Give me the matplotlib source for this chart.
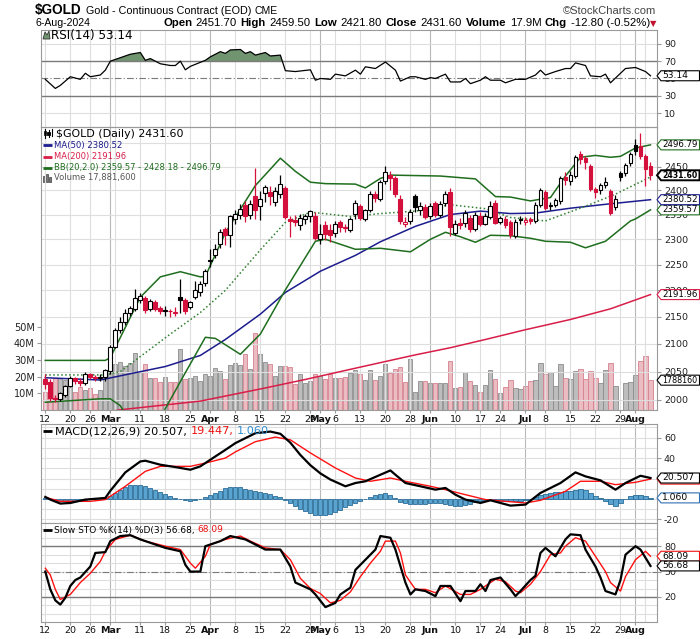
import numpy as np
import pandas as pd
import matplotlib
matplotlib.use('Agg')
import matplotlib.pyplot as plt
from matplotlib import font_manager
from matplotlib.patches import Polygon, Rectangle
from matplotlib.lines import Line2D
from matplotlib.ticker import NullLocator, NullFormatter

W, H = 700, 639

# trading days on the chart (exchange closed on these)
closed = ['2024-02-19', '2024-03-29', '2024-05-27', '2024-06-19', '2024-07-04']
dates = pd.bdate_range('2024-02-12', '2024-08-06')
dates = dates[~dates.isin(pd.to_datetime(closed))]

prev_close = 2038.0   # 9-Feb close, only colours the first candle

opens = [2037, 2031, 2004, 2002, 2008, 2025, 2038, 2034, 2030, 2045,
         2040, 2038, 2040, 2051, 2095, 2126, 2140, 2158, 2164, 2182,
         2186, 2164, 2178, 2166, 2160, 2160, 2158, 2188, 2182, 2168,
         2188, 2196, 2214, 2259, 2268, 2290, 2320, 2308, 2341, 2350,
         2370, 2350, 2388, 2368, 2395, 2396, 2375, 2393, 2404, 2340,
         2339, 2328, 2340, 2346, 2347, 2300, 2328, 2318, 2312, 2334,
         2324, 2318, 2352, 2368, 2340, 2360, 2392, 2382, 2420, 2432,
         2425, 2383, 2330, 2337, 2388, 2360, 2365, 2347, 2373, 2350,
         2373, 2397, 2313, 2332, 2332, 2343, 2320, 2348, 2331, 2345,
         2373, 2335, 2340, 2334, 2306, 2338, 2334, 2341, 2336, 2370,
         2397, 2367, 2370, 2377, 2428, 2420, 2430, 2477, 2468, 2452,
         2402, 2400, 2411, 2399, 2365, 2436, 2436, 2457, 2497, 2495,
         2473, 2451.7]
highs = [2045, 2036, 2008, 2014, 2027, 2042, 2041, 2038, 2050, 2048,
         2043, 2046, 2054, 2098, 2130, 2150, 2164, 2170, 2203, 2195,
         2190, 2184, 2182, 2170, 2170, 2165, 2168, 2222, 2186, 2180,
         2218, 2218, 2242, 2280, 2290, 2320, 2325, 2350, 2360, 2372,
         2378, 2380, 2448, 2398, 2412, 2410, 2406, 2432, 2410, 2346,
         2350, 2352, 2352, 2360, 2355, 2330, 2336, 2330, 2336, 2338,
         2330, 2345, 2380, 2372, 2362, 2398, 2398, 2422, 2452, 2440,
         2430, 2390, 2345, 2362, 2392, 2375, 2372, 2374, 2378, 2378,
         2398, 2405, 2338, 2342, 2360, 2350, 2355, 2356, 2353, 2378,
         2380, 2347, 2348, 2338, 2340, 2348, 2345, 2345, 2375, 2405,
         2400, 2375, 2384, 2430, 2438, 2440, 2475, 2484, 2472, 2456,
         2408, 2415, 2428, 2403, 2390, 2440, 2458, 2482, 2509, 2522,
         2478, 2459.5]
lows = [2020, 1998, 1996, 1999, 2005, 2022, 2028, 2024, 2026, 2036,
        2034, 2034, 2034, 2046, 2092, 2120, 2134, 2152, 2160, 2176,
        2158, 2160, 2160, 2155, 2152, 2150, 2152, 2158, 2156, 2164,
        2184, 2190, 2208, 2246, 2262, 2282, 2288, 2285, 2330, 2340,
        2335, 2340, 2341, 2338, 2375, 2370, 2368, 2385, 2340, 2305,
        2326, 2318, 2330, 2335, 2298, 2290, 2298, 2295, 2305, 2315,
        2315, 2315, 2340, 2338, 2336, 2356, 2376, 2378, 2414, 2400,
        2386, 2330, 2325, 2330, 2355, 2350, 2340, 2340, 2345, 2345,
        2368, 2306, 2308, 2320, 2325, 2314, 2316, 2326, 2328, 2340,
        2330, 2330, 2322, 2302, 2302, 2330, 2328, 2330, 2332, 2365,
        2360, 2360, 2365, 2372, 2412, 2412, 2426, 2455, 2445, 2398,
        2385, 2392, 2405, 2350, 2360, 2420, 2430, 2452, 2475, 2466,
        2410, 2421.8]
closes = [2028, 2003, 2001, 2012, 2024, 2038, 2033, 2030, 2046, 2040,
          2039, 2041, 2052, 2095, 2126, 2141, 2158, 2166, 2185, 2189,
          2162, 2180, 2164, 2161, 2163, 2160, 2159.5, 2182, 2160, 2178,
          2200, 2212, 2237, 2256, 2281, 2314, 2308, 2346, 2351, 2362,
          2347, 2372, 2360, 2383, 2406, 2388, 2398, 2413, 2345, 2337,
          2335, 2342, 2347, 2357, 2302, 2311, 2310, 2308, 2331, 2324,
          2322, 2340, 2373, 2342, 2359, 2393, 2384, 2418, 2438, 2425,
          2393, 2336, 2334, 2356, 2366, 2367, 2345, 2368, 2350, 2372,
          2392, 2325, 2330, 2328, 2353, 2320, 2350, 2331, 2347, 2368,
          2333, 2343, 2328, 2308, 2334, 2340, 2338, 2336, 2370, 2400,
          2364, 2369, 2379, 2425, 2421, 2433, 2470, 2466, 2459, 2402,
          2396, 2411, 2418, 2354, 2383, 2427, 2454, 2476, 2484, 2472,
          2444.4, 2431.6]
# volume in millions of contracts
volume_m = [10.5, 17, 19, 19, 18, 17, 11, 13.5, 12, 13, 9.5, 12, 19,
            29.5, 27.5, 28.5, 26.5, 28, 34, 22.5, 27.5, 19, 19, 16.5, 19.5, 16.5, 17, 36.5, 18.5, 19,
            20.3, 17.3, 21.7, 20.3, 24.9, 23.3, 18.3, 26.9, 28.3, 26.9,
            33.7, 24.3, 46.4, 33.7, 28.7, 27.7, 20.3, 26.3, 26.3, 25.7,
            15.3, 21.7, 16.3, 17.3, 21.7, 20.3, 18.3, 21.7, 18.9, 18.9, 19.7,
            22.3, 23.9, 21.5, 17.9, 23.9, 17.9, 20.5, 27.5, 21.9, 24.5,
            25.9, 16.5, 30.5, 11.0, 17.5, 17.1, 16.1, 16.1, 16.1, 16.1,
            29.5, 13.1, 13.5, 22.5, 17.1, 14.9, 11.0, 14.9, 23.9, 18.5,
            10.4, 13.5, 17.9, 13.1, 12.4, 14.5, 17.5, 17.9, 28.1, 21.5,
            22.5, 14.5, 27.5, 19.1, 18.5, 23.1, 24.5, 18.5, 23.1, 19.1,
            16.1, 23.9, 28.1, 14.5, 0, 16.1, 16.5, 21.1, 29.5, 32.5,
            17.8816]

# overlay lines: day index -> value
ma50_day = [0, 11, 18, 24, 31, 36, 43, 48, 55, 62, 67, 74, 81, 87, 93, 98, 105, 112, 121]
ma50_val = [2039, 2035, 2048, 2059, 2079, 2108, 2155, 2196, 2237, 2268, 2295, 2326, 2350,
            2357, 2352, 2353, 2363, 2371, 2380.52]
ma200_day = [0, 10, 15, 31, 44, 52, 61, 68, 74, 81, 88, 96, 105, 113, 121]
ma200_val = [1968, 1975, 1983, 1998, 2021, 2036, 2054, 2068, 2080, 2093, 2108, 2126, 2145, 2165, 2191.96]
bb_up_day = [0, 12, 13, 19, 23, 27, 31, 32, 36, 42, 47, 50, 53, 56, 62, 64, 67, 69, 79, 86,
             90, 93, 97, 101, 104, 107, 110, 113, 115, 118, 121]
bb_up_val = [2070, 2070, 2075, 2187, 2226, 2236, 2226, 2227, 2313, 2410, 2468, 2440, 2417, 2414,
             2413, 2405, 2425, 2432, 2430, 2424, 2387, 2386, 2378, 2385, 2430, 2470, 2474, 2470,
             2472, 2490, 2496.79]
bb_mid_day = [0, 12, 15, 19, 25, 31, 36, 43, 48, 53, 61, 67, 74, 81, 88, 93, 100, 108, 114, 121]
bb_mid_val = [2044, 2044, 2050, 2077, 2118, 2158, 2200, 2279, 2334, 2355, 2346, 2352, 2357, 2370,
              2362, 2344, 2337, 2367, 2392, 2428.18]
bb_lo_day = [0, 11, 13, 15, 18, 21, 24, 28, 32, 34, 39, 43, 48, 54, 56, 62, 67, 73, 77, 80,
             83, 86, 89, 93, 97, 100, 105, 108, 112, 117, 118, 121]
bb_lo_val = [1996, 2002, 2002, 1990, 1950, 1930, 1985, 2048, 2112, 2110, 2081, 2118, 2201, 2296,
             2300, 2280, 2282, 2275, 2300, 2314, 2305, 2294, 2308, 2307, 2302, 2296, 2294, 2283,
             2296, 2337, 2341, 2359.57]

rsi_day = [0, 2, 3, 5, 7, 8, 9, 11, 12, 13, 15, 17, 19, 20, 21, 23, 25, 26, 27, 28,
           29, 32, 33, 35, 36, 37, 39, 40, 41, 42, 44, 45, 47, 48, 50, 53, 54, 55, 57, 58,
           60, 62, 63, 64, 66, 68, 70, 71, 73, 74, 76, 77, 78, 80, 81, 83, 84, 85, 87, 88,
           89, 91, 92, 94, 96, 98, 99, 100, 102, 104, 105, 106, 108, 109, 111, 112, 113, 115, 116, 118,
           120, 121]
rsi_val = [49, 38.5, 42, 52, 49, 56, 52, 54, 59.6, 70, 74, 78, 80, 71, 73, 67, 65, 65, 70, 60,
           64, 71, 75, 81, 79, 83, 83.5, 79, 81, 77, 80, 76, 77, 59, 58, 60, 48, 50, 49, 55,
           53, 59.6, 55, 63.5, 61.5, 69, 59.6, 47, 52, 52, 49, 51, 50, 55, 46, 46, 50, 44, 48, 52,
           48, 48, 45, 49, 49, 54, 59.6, 54, 58, 61.5, 61.5, 68, 65, 53, 52, 55, 45, 56, 61.5, 62.7,
           58, 53.14]

macd_day = [0, 1, 3, 5, 8, 12, 13, 14, 16, 19, 20, 23, 26, 29, 31, 34, 36, 38, 42, 45, 47,
            49, 51, 53, 55, 57, 60, 62, 64, 67, 69, 70, 72, 75, 78, 80, 82, 84, 87, 89, 93,
            96, 99, 103, 106, 108, 111, 114, 116, 119, 121]
macd_val = [2.0, -0.6, -4.5, -3.9, -0.6, 1, 8, 14, 26, 36.7, 37.4, 33.5, 31.2, 28.6, 31.9, 41.6, 48,
            54.6, 64.3, 65.9, 63.7, 55, 43, 33, 25, 19, 12.4, 15.6, 17.3, 23.7, 27.9, 23.7, 15.6,
            12.4, 9.1, 10.8, 4.2, -0.6, -3.9, -1.3, -6.5, -5.5, 5.9, 15.6, 26, 22.1, 18.2, 9.1,
            15.6, 22.7, 20.507]
signal_day = [0, 3, 9, 12, 16, 20, 23, 29, 32, 36, 38, 42, 46, 49, 53, 58, 62, 65, 69, 72,
              77, 80, 84, 88, 92, 96, 99, 104, 107, 111, 114, 118, 121]
signal_val = [1.6, -2.3, -2.3, -0.6, 12.4, 27, 31.9, 31.9, 35.1, 40, 46, 56, 60.5, 57.8, 45, 30.3,
              20.5, 17.3, 20.5, 17.3, 12.4, 9.1, 4.2, -0.6, -2.3, -3.9, -1.3, 7.5, 17.3, 17.3, 14,
              16.3, 19.447]
hist_val = [1.0, 0, -1.5, -2, -2, -2, -1.5, -1, -1, -0.5,
            0, 0.5, 1, 3, 6, 9, 12, 13.5, 14, 14,
            13, 11, 9, 7, 5, 3, 1, 0, -1, -1.5,
            -1, 0, 2, 4, 6, 8, 11, 12, 12, 11.5,
            10, 9, 8, 7, 6, 5, 3, 1.5, -1, -4,
            -7, -10, -12, -14, -15.5, -16, -16, -15, -13, -11,
            -8, -6, -4, -2, 0, 2, 3.5, 5, 5.5, 3.5,
            0.5, -2.5, -4, -4.5, -5, -5, -4.5, -4, -3.5, -4,
            -5, -6, -6.5, -7, -6, -5, -3, -1.5, -1, -0.5,
            -1, -1.5, -2, -2, -2, -1.5, -1, 0, 2, 4,
            5, 6, 6.5, 7, 7.5, 8, 9, 10, 9, 6,
            3, 1, -1.5, -5, -6.5, -4, 0, 3, 4.2, 4,
            3, 1.06]

stok_day = [0, 1, 2, 3, 4, 5, 6, 7, 9, 10, 12, 13, 15, 17, 19, 21, 24, 27, 28, 29,
            31, 32, 35, 37, 40, 42, 44, 47, 49, 50, 53, 54, 56, 58, 59, 61, 62, 64, 66, 67,
            69, 70, 72, 73, 74, 76, 78, 79, 81, 83, 84, 86, 87, 88, 89, 91, 93, 94, 95, 97,
            98, 99, 100, 102, 104, 105, 107, 108, 110, 111, 112, 114, 115, 116, 118, 119, 121]
stok_val = [50, 29, 16, 11, 19, 33, 40, 43, 56, 72, 73, 86, 92, 93, 88, 84, 78, 74, 58, 50,
            50, 80, 86, 92, 88, 82, 76, 76, 56, 37, 29, 23, 8, 13, 23, 31, 52, 64, 76, 92,
            90, 76, 37, 23, 29, 27, 21, 33, 33, 15, 27, 27, 35, 27, 40, 43, 29, 21, 27, 40,
            45, 72, 78, 68, 88, 94, 93, 76, 56, 43, 27, 23, 40, 70, 80, 76, 56.68]
stod_day = [0, 1, 2, 3, 5, 7, 9, 11, 12, 14, 17, 20, 24, 27, 29, 30, 32, 33, 36, 39,
            41, 44, 47, 49, 51, 53, 55, 57, 59, 61, 63, 65, 67, 68, 70, 71, 72, 74, 76, 78,
            80, 83, 85, 87, 88, 90, 92, 94, 95, 97, 99, 101, 103, 104, 106, 108, 110, 112, 113, 115,
            116, 118, 120, 121]
stod_val = [54, 46, 29, 17, 23, 37, 48, 62, 74, 88, 93, 86, 80, 76, 60, 54, 68, 82, 88, 92,
            86, 78, 76, 64, 42, 30, 24, 13, 16, 26, 44, 60, 74, 86, 86, 72, 46, 29, 29, 25,
            33, 23, 23, 29, 33, 41, 38, 27, 25, 35, 50, 70, 72, 80, 90, 86, 68, 50, 37, 27,
            44, 64, 74, 68.09]

RED = '#d4113c'
NAVY = '#1c1c8e'
MA200C = '#d81e48'
BBC = '#1e6e1e'
GRID = '#dedede'
MGRID = '#b8b8b8'

names = {f.name for f in font_manager.fontManager.ttflist}
NARROW = ['Liberation Sans Narrow'] if 'Liberation Sans Narrow' in names else ['Liberation Sans']
NARROW = NARROW + ['DejaVu Sans']

n = len(closes)
idx = np.arange(n)
o = np.array(opens); hi = np.array(highs); lo = np.array(lows); c = np.array(closes)
prev = np.r_[prev_close, c[:-1]]
down = c < prev
edge = np.where(down, RED, 'black')
body_fc = np.where(c > o, 'white', edge)

ds = pd.Series(dates)
wk = ds.dt.isocalendar().week.values
mo = ds.dt.month.values
week_start = np.r_[True, wk[1:] != wk[:-1]]
month_start = np.r_[False, mo[1:] != mo[:-1]]

lab_idx, lab_txt, lab_bold = [], [], []
last_m = -10
for i in range(n):
    if month_start[i]:
        lab_idx.append(i); lab_txt.append(dates[i].strftime('%b')); lab_bold.append(True); last_m = i
    elif week_start[i] and i - last_m > 2:
        lab_idx.append(i); lab_txt.append(str(dates[i].day)); lab_bold.append(False)

XL = (-0.86, 122.3)

fig = plt.figure(figsize=(W / 100, H / 100), dpi=100)
fig.patch.set_facecolor('white')


def panel(top, bottom):
    return fig.add_axes([41 / W, 1 - bottom / H, 616 / W, (bottom - top) / H])


def style(a, yticks, ylabels, hgrid):
    a.set_xlim(XL)
    for s in a.spines.values():
        s.set_color('#9a9a9a'); s.set_linewidth(0.8)
    a.yaxis.tick_right()
    a.set_yticks(yticks)
    a.set_yticklabels(ylabels)
    a.yaxis.set_minor_locator(NullLocator())
    a.yaxis.set_minor_formatter(NullFormatter())
    a.tick_params(axis='y', which='both', length=3, labelsize=6.8, pad=2,
                  labelcolor='#222222', color='#9a9a9a')
    a.tick_params(axis='x', which='both', length=0, labelbottom=False)
    for i in np.flatnonzero(week_start | month_start):
        a.axvline(i, color=MGRID if month_start[i] else GRID, lw=0.8, zorder=0)
    for v in hgrid:
        a.axhline(v, color=GRID, lw=0.8, zorder=0)


def xlabels(a):
    a.set_xticks(lab_idx)
    a.set_xticklabels(lab_txt)
    a.tick_params(axis='x', length=2, labelbottom=True, labelsize=6.8, pad=1.5,
                  color='#9a9a9a', labelcolor='#111111')
    for t, b in zip(a.get_xticklabels(), lab_bold):
        t.set_fontweight('bold' if b else 'normal')


# ---------------- RSI ----------------
ax_rsi = panel(29.5, 126.5)
ax_rsi.set_ylim(-5.5, 106.6)
style(ax_rsi, [10, 30, 50, 70, 90], ['10', '30', '50', '70', '90'], [10, 90])
rv = np.array(rsi_val)
ax_rsi.fill_between(rsi_day, rv, 70, where=rv >= 70, interpolate=True, color='#6f946f', lw=0, zorder=1)
ax_rsi.axhline(70, color='#7a7a7a', lw=1, zorder=1)
ax_rsi.axhline(30, color='#7a7a7a', lw=1, zorder=1)
ax_rsi.axhline(50, color='#7a7a7a', lw=0.8, ls=(0, (6, 2, 1, 2)), zorder=1)
ax_rsi.plot(rsi_day, rsi_val, color='black', lw=0.9, zorder=3)

# ---------------- price + volume ----------------
ax = panel(126.5, 410)
vax = ax.twinx()
ax.set_zorder(vax.get_zorder() + 1)
ax.patch.set_visible(False)
ax.set_yscale('log')
ax.set_ylim(1982.6, 2537)
pticks = list(range(2000, 2501, 50))
style(ax, pticks, [str(v) for v in pticks], pticks)
for s in vax.spines.values():
    s.set_visible(False)
vax.set_ylim(0, 170)
vax.yaxis.tick_left()
vax.set_yticks([10, 20, 30, 40, 50])
vax.set_yticklabels(['10M', '20M', '30M', '40M', '50M'])
vax.tick_params(axis='y', length=3, labelsize=7, pad=1.5, labelcolor='#222222', color='#9a9a9a')
vax.bar(idx, volume_m, width=0.82, color=np.where(down, '#ebbdc3', '#bdbdbd'),
        edgecolor=np.where(down, '#d5828f', '#8c8c8c'), lw=0.6, zorder=2)

ax.plot(ma200_day, ma200_val, color=MA200C, lw=1.1, zorder=2)
ax.plot(ma50_day, ma50_val, color=NAVY, lw=1.1, zorder=2)
ax.plot(bb_up_day, bb_up_val, color=BBC, lw=1.1, zorder=2)
ax.plot(bb_lo_day, bb_lo_val, color=BBC, lw=1.1, zorder=2)
ax.plot(bb_mid_day, bb_mid_val, color='#2f7f2f', lw=1.1, ls=(0, (1, 1.6)), zorder=2)

ax.vlines(idx, lo, hi, colors=edge, lw=0.9, zorder=3)
ax.bar(idx, np.maximum(np.abs(c - o), 0.8), bottom=np.minimum(o, c), width=0.78,
       color=body_fc, edgecolor=edge, lw=0.8, zorder=4)
ax.set_ylim(1982.6, 2537)
xlabels(ax)

# ---------------- MACD ----------------
ax_macd = panel(424, 522.5)
ax_macd.set_ylim(-23, 73.3)
style(ax_macd, [-20, 0, 20, 40, 60], ['-20', '0', '20', '40', '60'], range(-20, 71, 10))
ax_macd.bar(idx, hist_val, width=0.82, color='#58a3cf', edgecolor='#2b6c98', lw=0.6, zorder=2)
ax_macd.plot(signal_day, signal_val, color='#ff1010', lw=1.0, zorder=3)
ax_macd.plot(macd_day, macd_val, color='black', lw=1.6, zorder=4)

# ---------------- Slow Stochastic ----------------
ax_sto = panel(522.5, 621.5)
ax_sto.set_ylim(-9, 108)
style(ax_sto, [20, 50, 80], ['20', '50', '80'], range(0, 101, 10))
ax_sto.axhline(80, color='#7a7a7a', lw=1, zorder=1)
ax_sto.axhline(20, color='#7a7a7a', lw=1, zorder=1)
ax_sto.axhline(50, color='#7a7a7a', lw=0.8, ls=(0, (6, 2, 1, 2)), zorder=1)
ax_sto.plot(stod_day, stod_val, color='#ff1010', lw=1.0, zorder=3)
ax_sto.plot(stok_day, stok_val, color='black', lw=1.6, zorder=4)
xlabels(ax_sto)

renderer = fig.canvas.get_renderer()


def fy(y):
    return 1 - y / H


def measure(s, size, family, weight):
    t = fig.text(0, 0, s, fontsize=size, family=family, weight=weight)
    w = t.get_window_extent(renderer).width
    t.remove()
    return w


tag_z = [5]


def tag(a, value, text, ec, bold=False, lw=0.8):
    d = a.transData.transform((XL[1], value))
    px, py = fig.transFigure.inverted().transform(d)
    px, py = px * W, py * H
    h = 5.0
    z = tag_z[0]
    tag_z[0] += 2
    pts = [(px, py), (px + 4, py + h), (px + 42.5, py + h), (px + 42.5, py - h), (px + 4, py - h)]
    fig.add_artist(Polygon([(x / W, y / H) for x, y in pts], closed=True, transform=fig.transFigure,
                           fc='white', ec=ec, lw=lw, zorder=z))
    wt = 'bold' if bold else 'normal'
    size = min(6.6, 10 * 35.5 / measure(text, 10, ['DejaVu Sans'], wt))
    fig.text((px + 5) / W, py / H, text, fontsize=size, va='center', ha='left',
             weight=wt, color='black', zorder=z + 1)


def fit_text(x0, x1, y, s, family=('DejaVu Sans',), weight='normal', color='black'):
    size = 10 * (x1 - x0) / measure(s, 10, list(family), weight)
    return fig.text(x0 / W, fy(y), s, fontsize=size, family=list(family), weight=weight,
                    color=color, va='center', ha='left')


def rich_fit(x0, x1, y, parts, family, gap=0.28):
    # parts: (text, colour, weight); a space-sized gap goes between parts
    total = sum(measure(s, 10, family, w) for s, _, w in parts) + gap * 10 * 100 / 72 * (len(parts) - 1)
    size = 10 * (x1 - x0) / total
    x = x0
    for s, col, w in parts:
        t = fig.text(x / W, fy(y), s, fontsize=size, family=family, weight=w, color=col,
                     va='center', ha='left')
        x += t.get_window_extent(renderer).width + gap * size * 100 / 72
    return size


def fline(x0, x1, y, color, lw=2):
    fig.add_artist(Line2D([x0 / W, x1 / W], [fy(y), fy(y)], transform=fig.transFigure,
                          color=color, lw=lw, solid_capstyle='butt'))


def frect(x, ytop, w, h, fc, ec):
    fig.add_artist(Rectangle((x / W, fy(ytop + h)), w / W, h / H, transform=fig.transFigure,
                             fc=fc, ec=ec, lw=0.6))


# header
fit_text(35, 82, 10, '$GOLD', NARROW, weight='bold')
fit_text(86, 250, 10.5, 'Gold - Continuous Contract (EOD)', NARROW)
fit_text(254, 277, 10.5, 'CME', NARROW)
fit_text(563, 656, 10.5, '\u00a9StockCharts.com', NARROW, color='#444444')
fit_text(35, 90, 23, '6-Aug-2024', NARROW)
line2 = [('Open', 'black', 'bold'), ('2451.70', 'black', 'normal'),
         ('High', 'black', 'bold'), ('2459.50', 'black', 'normal'),
         ('Low', 'black', 'bold'), ('2421.80', 'black', 'normal'),
         ('Close', 'black', 'bold'), ('2431.60', 'black', 'normal'),
         ('Volume', 'black', 'bold'), ('17.9M', 'black', 'normal'),
         ('Chg', 'black', 'bold'), ('-12.80 (-0.52%)', 'black', 'normal')]
rich_fit(163, 647, 23, line2, NARROW, gap=0.32)
fig.text(650 / W, fy(23.5), '\u25bc', fontsize=6, color='#c0102e', va='center', ha='left',
         family='DejaVu Sans')

# panel legends
fig.add_artist(Polygon([(43 / W, fy(39)), (45 / W, fy(32)), (47 / W, fy(35)), (49 / W, fy(31)),
                        (50 / W, fy(39))], closed=True, transform=fig.transFigure,
                       fc='#6f946f', ec='#333333', lw=0.6))
fit_text(51, 133, 35, 'RSI(14) 53.14')

for xx, y0, y1 in [(44.5, 129, 138), (48.5, 130, 137), (52, 129, 136)]:
    fig.add_artist(Line2D([xx / W, xx / W], [fy(y0), fy(y1)], transform=fig.transFigure,
                          color='black', lw=0.8))
frect(43.5, 131, 2, 4, 'white', 'black')
frect(47.5, 132, 2, 3, 'black', 'black')
fit_text(56, 183, 134.3, '$GOLD (Daily) 2431.60')
fline(43, 52, 145.3, NAVY)
fit_text(54, 122, 145.3, 'MA(50) 2380.52', color=NAVY)
fline(43, 52, 156.5, MA200C)
fit_text(54, 127, 156.5, 'MA(200) 2191.96', color=MA200C)
fline(43, 52, 167.5, BBC)
fit_text(54, 221, 167.5, 'BB(20,2.0) 2359.57 - 2428.18 - 2496.79', color=BBC)
for xx, hh in [(43, 6), (46, 8), (49, 5)]:
    frect(xx, 182 - hh, 2.4, hh, '#777777', '#555555')
fit_text(54, 135, 177.8, 'Volume 17,881,600', color='#555555')

fline(43, 52, 431, 'black')
rich_fit(55, 268, 431, [('MACD(12,26,9) 20.507,', 'black', 'normal'),
                        ('19.447,', '#ee1111', 'normal'),
                        ('1.060', '#2f8fd0', 'normal')], ['DejaVu Sans'], gap=0.3)
fline(43, 52, 530, 'black')
rich_fit(54, 223, 530, [('Slow STO %K(14) %D(3) 56.68,', 'black', 'normal'),
                        ('68.09', '#ee1111', 'normal')], ['DejaVu Sans'], gap=0.3)

# value tags on the right edge (later ones sit on top)
tag(ax, 2496.79, '2496.79', BBC)
tag(ax, 2191.96, '2191.96', MA200C)
tag(ax, 2359.57, '2359.57', BBC)
tag(ax, 2380.52, '2380.52', NAVY)
tag(ax, 2431.60, '2431.60', 'black', bold=True, lw=1.4)
tag(vax, 17.8816, '1788160', 'black')
tag(ax_rsi, 53.14, '53.14', 'black')
tag(ax_macd, 19.447, '19.447', '#ee1111')
tag(ax_macd, 20.507, '20.507', 'black')
tag(ax_macd, 1.060, '1.060', '#2f6fb5')
tag(ax_sto, 68.09, '68.09', '#ee1111')
tag(ax_sto, 56.68, '56.68', 'black')

fig.savefig('out.png', dpi=100)
